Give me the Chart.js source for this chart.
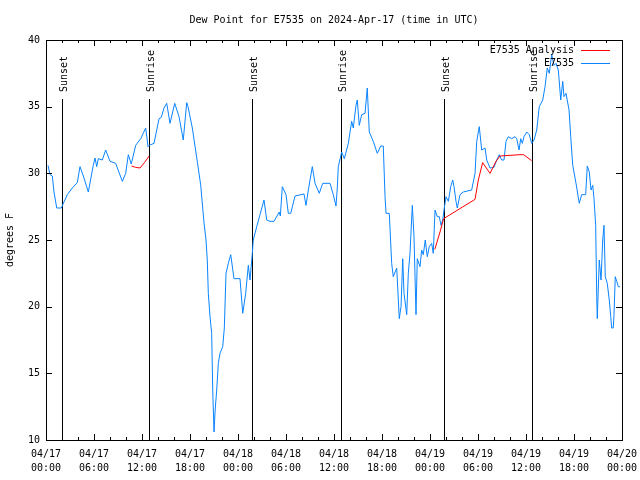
<!DOCTYPE html>
<html>
<head>
<meta charset="utf-8" />
<script src="https://cdn.jsdelivr.net/npm/chart.js"></script>
<style>
  html, body { margin: 0; padding: 0; background: #fff; }
  canvas { display: block; }
</style>
</head>
<body>
<canvas id="dewChart" width="640" height="480"></canvas>
<script>
// hours since 2024-04-17 00:00 UTC
const xTickLabels = [
  ["04/17", "00:00"], ["04/17", "06:00"], ["04/17", "12:00"], ["04/17", "18:00"],
  ["04/18", "00:00"], ["04/18", "06:00"], ["04/18", "12:00"], ["04/18", "18:00"],
  ["04/19", "00:00"], ["04/19", "06:00"], ["04/19", "12:00"], ["04/19", "18:00"],
  ["04/20", "00:00"]
];
const yTicks = [10, 15, 20, 25, 30, 35, 40];

// E7535 observations
const obsHours = [
  0.25, 0.5, 0.79, 1.0, 1.34, 1.91, 2.66, 3.29, 3.91, 4.25, 4.75, 5.29, 5.91, 6.13, 6.34, 6.54,
  7.04, 7.46, 8.0, 8.71, 9.54, 9.96, 10.29, 10.66, 11.21, 11.84, 12.46, 12.59, 12.75, 12.91,
  13.5, 14.13, 14.41, 14.75, 15.09, 15.5, 16.09, 16.63, 17.16, 17.59, 17.75, 18.29, 18.91,
  19.34, 19.5, 19.75, 20.0, 20.16, 20.29, 20.5, 20.71, 20.84, 21.0, 21.16, 21.34, 21.54, 21.75,
  22.09, 22.29, 22.5, 22.79, 23.09, 23.5, 24.25, 24.59, 24.96, 25.29, 25.5, 25.79, 25.91,
  26.34, 26.75, 27.25, 27.59, 28.0, 28.5, 29.16, 29.29, 29.54, 30.0, 30.29, 30.59, 31.13,
  32.25, 32.5, 32.79, 33.29, 33.63, 34.16, 34.59, 35.5, 35.91, 36.25, 36.41, 36.54, 36.96,
  37.29, 37.79, 38.21, 38.41, 38.75, 38.91, 39.16, 39.46, 39.88, 40.16, 40.41, 40.91, 41.41,
  41.84, 42.16, 42.38, 42.5, 42.91, 43.21, 43.41, 43.84, 44.16, 44.38, 44.59, 44.75, 45.09,
  45.29, 45.5, 45.79, 46.0, 46.25, 46.41, 46.75, 46.96, 47.16, 47.41, 47.66, 47.91, 48.21,
  48.41, 48.63, 48.91, 49.16, 49.38, 49.59, 49.75, 50.0, 50.29, 50.59, 50.84, 51.0, 51.25,
  51.41, 51.75, 52.16, 53.21, 53.63, 53.84, 54.16, 54.46, 54.88, 55.09, 55.5, 56.0, 56.34,
  56.66, 56.96, 57.25, 57.5, 57.79, 58.21, 58.63, 58.84, 59.13, 59.34, 59.54, 59.75, 60.09,
  60.41, 60.71, 61.0, 61.34, 61.66, 62.09, 62.38, 62.66, 62.91, 63.21, 63.5, 63.75, 64.04,
  64.34, 64.59, 64.75, 65.0, 65.38, 65.59, 65.84, 66.25, 66.66, 66.96, 67.46, 67.66, 67.91,
  68.13, 68.34, 68.5, 68.71, 68.84, 68.91, 69.16, 69.38, 69.59, 69.75, 69.91, 70.16, 70.41,
  70.59, 70.71, 70.91, 71.0, 71.16, 71.34, 71.54, 71.75
];
const obsDew = [
  30.6, 29.9, 29.8, 28.6, 27.4, 27.4, 28.4, 28.9, 29.3, 30.5, 29.65, 28.6, 30.6, 31.15, 30.5, 31.1,
  31.0, 31.75, 30.9, 30.75, 29.4, 30.0, 31.4, 30.7, 32.1, 32.6, 33.4, 32.8, 32.0, 32.1,
  32.25, 34.1, 34.2, 34.9, 35.25, 33.75, 35.25, 34.25, 32.5, 35.3, 35.0, 33.4, 30.9,
  29.1, 28.0, 26.3, 25.0, 23.5, 21.0, 19.25, 18.0, 13.75, 10.6, 12.4, 13.75, 15.75, 16.5,
  17.0, 18.4, 22.5, 23.25, 23.9, 22.1, 22.1, 19.5, 21.0, 23.1, 22.0, 24.0, 25.0,
  26.0, 26.9, 28.0, 26.5, 26.4, 26.4, 27.1, 26.8, 29.0, 28.4, 27.0, 27.0, 28.3,
  28.45, 27.6, 28.75, 30.5, 29.25, 28.5, 29.25, 29.25, 28.4, 27.55, 28.9, 30.5, 31.6,
  31.1, 32.25, 33.9, 33.4, 35.1, 35.5, 33.6, 34.4, 34.5, 36.4, 33.1, 32.4, 31.5,
  32.05, 32.05, 28.25, 27.0, 27.0, 23.25, 22.25, 22.9, 19.1, 20.0, 23.6, 21.0, 19.4,
  22.5, 24.0, 27.6, 25.25, 19.4, 23.6, 23.0, 24.25, 23.9, 25.0, 23.75, 24.5, 24.75,
  24.0, 27.25, 26.75, 26.75, 26.1, 26.5, 27.25, 28.25, 27.9, 29.0, 29.5, 29.0, 27.9,
  27.4, 28.4, 28.6, 28.75, 30.0, 32.4, 33.5, 31.75, 31.9, 31.0, 30.4, 30.45, 31.0,
  31.4, 31.0, 31.0, 32.4, 32.75, 32.6, 32.75, 32.6, 31.75, 32.6, 32.25, 32.75, 33.1,
  32.9, 32.25, 32.5, 33.25, 35.0, 35.5, 36.5, 37.9, 37.5, 38.9, 38.1, 38.25, 37.75,
  35.5, 36.9, 35.75, 36.0, 34.75, 32.75, 30.6, 29.25, 27.75, 28.4, 28.4, 30.55, 30.1,
  28.75, 29.1, 28.1, 26.1, 20.75, 19.1, 23.5, 22.0, 25.0, 26.1, 22.25, 21.75, 20.5,
  19.25, 18.4, 18.4, 19.4, 22.25, 21.9, 21.5, 21.5
];

// E7535 Analysis (null = gap)
const anaHours = [10.7, 11.2, 11.75, 12.3, 12.9, 13.0,
  48.6, 49.25, 49.7, 53.63, 54.04, 54.58, 55.5, 56.25, 56.75, 59.25, 59.7, 60.7];
const anaDew = [30.55, 30.45, 30.4, 30.8, 31.3, null,
  24.3, 25.6, 26.6, 28.05, 29.5, 30.8, 30.0, 30.9, 31.3, 31.4, 31.4, 30.95];

// sunrise / sunset markers
const eventHours = [2.0, 12.9, 25.8, 36.9, 49.8, 60.8];
const eventNames = ["Sunset", "Sunrise", "Sunset", "Sunrise", "Sunset", "Sunrise"];

const FONT = '10px "DejaVu Sans Mono", "Liberation Mono", monospace';

const gnuplotLook = {
  id: "gnuplotLook",
  beforeDraw(chart) {
    const ctx = chart.ctx;
    ctx.save();
    ctx.fillStyle = "#fff";
    ctx.fillRect(0, 0, chart.width, chart.height);
    ctx.restore();
  },
  beforeDatasetsDraw(chart) {
    const { ctx, chartArea: a, scales: { x } } = chart;
    ctx.save();
    ctx.strokeStyle = "#000";
    ctx.lineWidth = 1;
    ctx.fillStyle = "#000";
    ctx.font = FONT;
    eventHours.forEach((h, i) => {
      const px = Math.round(x.getPixelForValue(h)) + 0.5;
      ctx.beginPath();
      ctx.moveTo(px, 99);
      ctx.lineTo(px, a.bottom);
      ctx.stroke();
      ctx.save();
      ctx.translate(px + 4, 92);
      ctx.rotate(-Math.PI / 2);
      ctx.textAlign = "left";
      ctx.textBaseline = "alphabetic";
      ctx.fillText(eventNames[i], 0, 0);
      ctx.restore();
    });
    ctx.restore();
  },
  afterDraw(chart) {
    const { ctx, chartArea: a, scales: { x, y } } = chart;
    ctx.save();
    ctx.strokeStyle = "#000";
    ctx.lineWidth = 1;
    ctx.strokeRect(a.left + 0.5, a.top + 0.5, a.right - a.left, a.bottom - a.top);

    ctx.beginPath();
    for (let h = 0; h <= 72; h += 2) {
      const px = Math.round(x.getPixelForValue(h)) + 0.5;
      const len = h % 6 === 0 ? 6 : 3;
      ctx.moveTo(px, a.bottom); ctx.lineTo(px, a.bottom - len);
      ctx.moveTo(px, a.top); ctx.lineTo(px, a.top + len);
    }
    yTicks.forEach(v => {
      const py = Math.round(y.getPixelForValue(v)) + 0.5;
      ctx.moveTo(a.left, py); ctx.lineTo(a.left + 6, py);
      ctx.moveTo(a.right, py); ctx.lineTo(a.right - 6, py);
    });
    ctx.stroke();

    ctx.fillStyle = "#000";
    ctx.font = FONT;
    ctx.textBaseline = "middle";
    ctx.textAlign = "center";
    ctx.fillText("Dew Point for E7535 on 2024-Apr-17 (time in UTC)", (a.left + a.right) / 2, 20);

    ctx.save();
    ctx.translate(10, (a.top + a.bottom) / 2);
    ctx.rotate(-Math.PI / 2);
    ctx.fillText("degrees F", 0, 0);
    ctx.restore();

    // legend
    const legend = [["E7535 Analysis", "#ff0000"], ["E7535", "#0a84ff"]];
    legend.forEach(([name, color], i) => {
      const ly = 50 + i * 13;
      ctx.textAlign = "right";
      ctx.fillStyle = "#000";
      ctx.fillText(name, 574, ly);
      ctx.strokeStyle = color;
      ctx.beginPath();
      ctx.moveTo(581, ly + 0.5);
      ctx.lineTo(610, ly + 0.5);
      ctx.stroke();
    });
    ctx.restore();
  }
};

new Chart(document.getElementById("dewChart"), {
  type: "line",
  data: {
    datasets: [
      {
        label: "E7535 Analysis",
        data: anaHours.map((h, i) => ({ x: h, y: anaDew[i] })),
        borderColor: "#ff0000",
        borderWidth: 1,
        pointRadius: 0,
        spanGaps: false,
        tension: 0
      },
      {
        label: "E7535",
        data: obsHours.map((h, i) => ({ x: h, y: obsDew[i] })),
        borderColor: "#0a84ff",
        borderWidth: 1,
        pointRadius: 0,
        tension: 0
      }
    ]
  },
  options: {
    responsive: false,
    animation: false,
    layout: { padding: { top: 40, right: 18, left: 0, bottom: 0 } },
    plugins: { legend: { display: false }, tooltip: { enabled: false } },
    scales: {
      x: {
        type: "linear",
        min: 0,
        max: 72,
        afterFit: s => { s.height = 40; s.paddingLeft = 0; s.paddingRight = 0; },
        afterBuildTicks: s => { s.ticks = xTickLabels.map((_, i) => ({ value: i * 6 })); },
        grid: { display: false, drawTicks: false },
        border: { display: false },
        ticks: {
          autoSkip: false,
          maxRotation: 0,
          padding: 7,
          color: "#000",
          font: { family: '"DejaVu Sans Mono", "Liberation Mono", monospace', size: 10, lineHeight: 1.4 },
          callback: (v, i) => xTickLabels[i]
        }
      },
      y: {
        min: 10,
        max: 40,
        afterFit: s => { s.width = 46; s.paddingTop = 0; s.paddingBottom = 0; },
        afterBuildTicks: s => { s.ticks = yTicks.map(v => ({ value: v })); },
        grid: { display: false, drawTicks: false },
        border: { display: false },
        ticks: {
          padding: 6,
          color: "#000",
          font: { family: '"DejaVu Sans Mono", "Liberation Mono", monospace', size: 10 }
        }
      }
    }
  },
  plugins: [gnuplotLook]
});
</script>
</body>
</html>
